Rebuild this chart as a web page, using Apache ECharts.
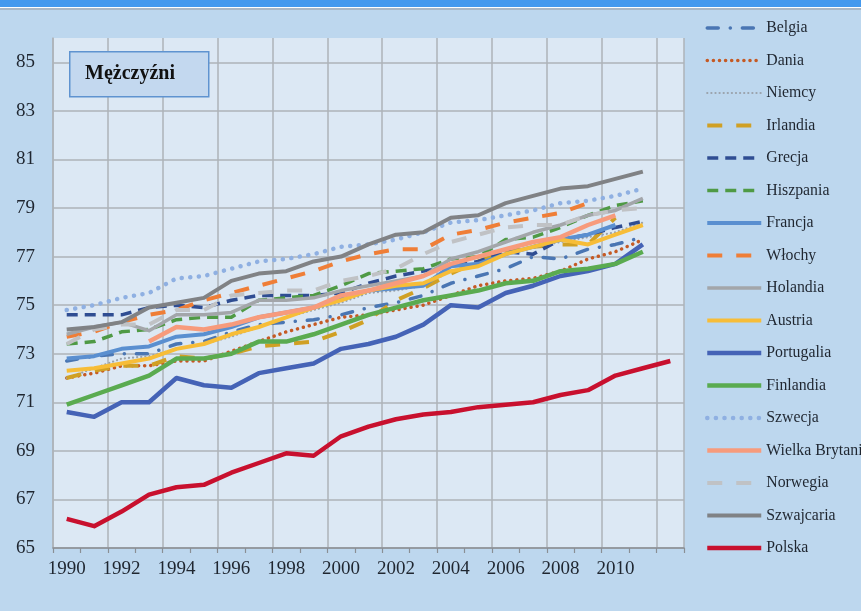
<!DOCTYPE html>
<html>
<head>
<meta charset="utf-8">
<script src="https://cdn.jsdelivr.net/npm/echarts@6/dist/echarts.min.js"></script>
<style>
html,body{margin:0;padding:0;background:#bdd7ee;}
#chart{width:861px;height:611px;}
</style>
</head>
<body>
<div id="chart"></div>
<script>
var years = ['1990','1991','1992','1993','1994','1995','1996','1997','1998','1999','2000','2001','2002','2003','2004','2005','2006','2007','2008','2009','2010','2011','2012'];
var yTickLabels = [65, 67, 69, 71, 73, 75, 77, 79, 81, 83, 85];
var titleText = 'Mężczyźni';

var belgia      = [72.7,72.9,73.0,73.0,73.4,73.5,73.9,74.2,74.3,74.4,74.6,74.9,75.1,75.4,75.9,76.2,76.5,77.0,76.9,77.3,77.5,77.8,null];
var dania       = [72.0,72.2,72.5,72.5,72.7,72.7,73.1,73.5,73.9,74.2,74.5,74.6,74.8,75.0,75.4,75.8,76.0,76.1,76.4,76.9,77.2,77.7,null];
var niemcy      = [72.0,72.4,72.8,72.9,73.2,73.4,73.7,74.1,74.5,74.8,75.1,75.5,75.6,75.8,76.4,76.7,77.1,77.4,77.6,77.8,78.0,78.4,null];
var irlandia    = [72.0,72.3,72.5,72.5,72.9,72.8,73.0,73.3,73.4,73.5,73.9,74.4,75.2,75.7,76.3,76.8,77.2,77.4,77.5,77.5,78.6,null,null];
var grecja      = [74.6,74.6,74.6,74.9,75.0,74.9,75.2,75.4,75.4,75.4,75.5,75.9,76.2,76.4,76.6,76.8,77.2,77.1,77.7,77.9,78.2,78.45,null];
var hiszpania   = [73.4,73.5,73.9,74.0,74.4,74.5,74.5,75.2,75.3,75.4,75.8,76.3,76.4,76.5,76.9,77.0,77.7,77.8,78.2,78.7,79.1,79.3,null];
var francja     = [72.8,72.9,73.2,73.3,73.7,73.8,74.1,74.5,74.7,74.9,75.3,75.6,75.7,75.8,76.6,76.7,77.1,77.4,77.7,77.9,78.3,null,null];
var wlochy      = [73.7,73.9,74.3,74.6,74.8,75.2,75.5,75.8,76.1,76.4,76.8,77.1,77.3,77.3,77.9,78.1,78.4,78.6,78.8,79.2,null,null,null];
var holandia    = [73.8,74.1,74.3,73.95,74.6,74.6,74.7,75.2,75.2,75.3,75.6,75.8,76.0,76.2,76.9,77.2,77.6,78.0,78.3,78.7,78.9,79.4,null];
var austria     = [72.3,72.4,72.6,72.8,73.2,73.4,73.8,74.1,74.5,74.9,75.2,75.6,75.8,75.9,76.4,76.6,77.1,77.4,77.7,77.5,77.9,78.3,null];
var portugalia  = [70.6,70.4,71.0,71.0,72.0,71.7,71.6,72.2,72.4,72.6,73.2,73.4,73.7,74.2,75.0,74.9,75.5,75.8,76.2,76.4,76.7,77.5,null];
var finlandia   = [70.9,71.3,71.7,72.1,72.8,72.8,73.0,73.5,73.5,73.8,74.2,74.6,74.9,75.2,75.4,75.6,75.9,76.0,76.4,76.5,76.7,77.2,null];
var szwecja     = [74.8,75.0,75.3,75.5,76.1,76.2,76.5,76.8,76.9,77.1,77.4,77.5,77.7,78.0,78.4,78.5,78.7,78.9,79.2,79.3,79.5,79.8,null];
var wielkaBryt  = [null,null,null,73.5,74.1,74.0,74.2,74.5,74.7,74.9,75.4,75.6,75.9,76.2,76.7,77.0,77.3,77.6,77.8,78.3,78.7,null,null];
var norwegia    = [73.4,74.0,74.2,74.2,74.8,74.8,75.4,75.5,75.6,75.6,76.0,76.2,76.5,77.1,77.6,77.9,78.2,78.3,78.3,78.7,78.9,79.0,null];
var szwajcaria  = [74.0,74.1,74.3,74.9,75.1,75.3,76.0,76.3,76.4,76.8,77.0,77.5,77.9,78.0,78.6,78.7,79.2,79.5,79.8,79.9,80.2,80.5,null];
var polska      = [66.2,65.9,66.5,67.2,67.5,67.6,68.1,68.5,68.9,68.8,69.6,70.0,70.3,70.5,70.6,70.8,70.9,71.0,71.3,71.5,72.1,72.4,72.7];

var defs = [
  ['Belgia', belgia, '#4a76b3', 3.5, [11, 12, 0.1, 12], 'round'],
  ['Dania', dania, '#c55a24', 3.5, [0.1, 6], 'round'],
  ['Niemcy', niemcy, '#9aa2ab', 2.2, [0.1, 4], 'round'],
  ['Irlandia', irlandia, '#d0a024', 4, [15, 14], 'butt'],
  ['Grecja', grecja, '#2f4d92', 3.5, [11, 7], 'butt'],
  ['Hiszpania', hiszpania, '#4f9a45', 3.5, [11, 7], 'butt'],
  ['Francja', francja, '#5a8fd0', 4, 'solid', 'butt'],
  ['Włochy', wlochy, '#ef7e37', 4, [15, 14], 'butt'],
  ['Holandia', holandia, '#a3a6aa', 3.5, 'solid', 'butt'],
  ['Austria', austria, '#f7bd38', 4, 'solid', 'butt'],
  ['Portugalia', portugalia, '#4563b6', 4.5, 'solid', 'butt'],
  ['Finlandia', finlandia, '#5aab50', 4.5, 'solid', 'butt'],
  ['Szwecja', szwecja, '#8fb0e2', 4.5, [0.1, 8.5], 'round'],
  ['Wielka Brytania', wielkaBryt, '#f79b7c', 4.5, 'solid', 'butt'],
  ['Norwegia', norwegia, '#c0c2c5', 4, [15, 14], 'butt'],
  ['Szwajcaria', szwajcaria, '#808285', 4, 'solid', 'butt'],
  ['Polska', polska, '#c8102e', 4.5, 'solid', 'butt']
];

var series = defs.map(function (d) {
  return {
    name: d[0], type: 'line', data: d[1], symbol: 'none', showSymbol: false,
    connectNulls: false, silent: true,
    lineStyle: { color: d[2], width: d[3], type: d[4], cap: d[5], join: 'round' },
    itemStyle: { color: d[2] },
    emphasis: { disabled: true }
  };
});

var legendData = defs.map(function (d) {
  return {
    name: d[0],
    itemStyle: { opacity: 0 },
    lineStyle: { color: d[2], width: d[3], type: d[4], cap: d[5] }
  };
});

var serif = '"Liberation Serif", "DejaVu Serif", serif';
var chart = echarts.init(document.getElementById('chart'), null, { renderer: 'canvas' });
chart.setOption({
  animation: false,
  backgroundColor: '#bdd7ee',
  grid: { left: 53, right: 177, top: 38, bottom: 63, show: true, backgroundColor: '#dce8f4', borderWidth: 0 },
  legend: {
    orient: 'vertical', left: 700, top: 15,
    itemWidth: 54, itemHeight: 14, itemGap: 16.5,
    itemStyle: { opacity: 0 },
    textStyle: { fontFamily: serif, fontSize: 15.8, lineHeight: 16, color: '#1f2630' },
    data: legendData
  },
  xAxis: {
    type: 'category', data: years, boundaryGap: true,
    axisLine: { show: true, lineStyle: { color: '#8a8f95', width: 1.5 } },
    axisTick: { show: true, interval: 0, length: 5, lineStyle: { color: '#8a8f95', width: 1.2 } },
    axisLabel: {
      interval: function (i) { return i % 2 === 0 && i < 22; },
      fontFamily: serif, fontSize: 19, color: '#1f2630', margin: 12
    },
    splitLine: { show: true, interval: 1, lineStyle: { color: '#aeb3b9', width: 1.5 } }
  },
  yAxis: {
    type: 'value', min: 65, max: 86, interval: 1,
    axisLine: { show: true, lineStyle: { color: '#aeb3b9', width: 1.5 } },
    axisTick: { show: false },
    axisLabel: {
      fontFamily: serif, fontSize: 19, color: '#1f2630', margin: 18,
      formatter: function (v) { return yTickLabels.indexOf(v) >= 0 ? String(v) : ''; }
    },
    splitLine: { show: true, lineStyle: { color: ['#aeb3b9', 'rgba(0,0,0,0)'], width: 1.5 } }
  },
  graphic: [
    { type: 'rect', left: 0, top: 0, shape: { width: 861, height: 7 }, style: { fill: '#4499ee' }, z: 100 },
    { type: 'rect', left: 0, top: 7, shape: { width: 861, height: 1 }, style: { fill: '#ffffff' }, z: 100 },
    { type: 'rect', left: 0, top: 8, shape: { width: 861, height: 2 }, style: { fill: '#a9b7c6' }, z: 100 },
    { type: 'rect', left: 69, top: 51, shape: { width: 139, height: 45 }, style: { fill: '#c3d8ef', stroke: '#5f93d0', lineWidth: 1.5 }, z: 100 },
    { type: 'text', left: 85, top: 64, style: { text: titleText, font: 'bold 20px ' + serif, fill: '#111111' }, z: 101 }
  ],
  series: series
});
</script>
</body>
</html>
